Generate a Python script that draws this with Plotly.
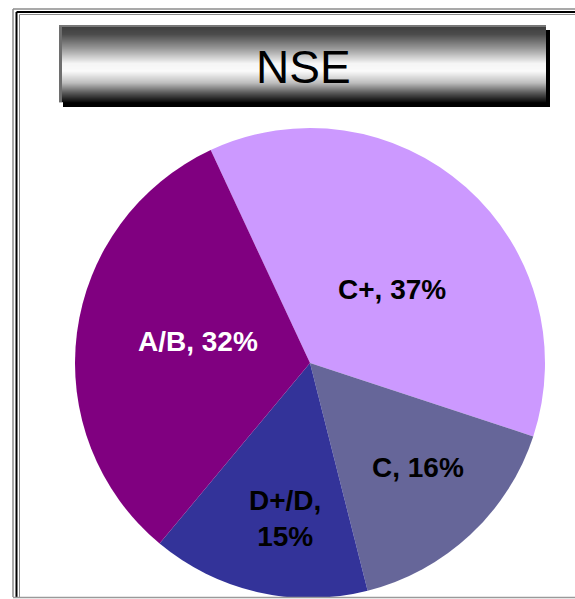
import math
import plotly.graph_objects as go

# ---- data ----
categories = ["C+", "C", "D+/D", "A/B"]
values = [37, 16, 15, 32]
label_text = ["C+, 37%", "C, 16%", "D+/D,<br>15%", "A/B, 32%"]
title_text = "NSE"

# ---- style ----
colors = ["#CC99FF", "#666699", "#333399", "#800080"]
text_colors = ["black", "black", "black", "white"]
label_angle_frac = [0.55, 0.45, 0.43, 0.53]   # where the label sits inside its slice (angular)
label_radius_frac = [0.47, 0.64, 0.67, 0.485]  # and radially (fraction of radius)
START_ANGLE = -25

W, H = 575, 599
FONT = "Arial, 'Liberation Sans', sans-serif"
CX, CY, R = 310, 363, 235


def px(x):
    return x / W


def py(y):
    return 1 - y / H


fig = go.Figure()
fig.add_trace(go.Pie(
    labels=categories,
    values=values,
    textinfo="none",
    marker=dict(colors=colors, line=dict(width=0)),
    sort=False,
    direction="clockwise",
    rotation=START_ANGLE,
    hoverinfo="skip",
    showlegend=False,
    domain=dict(x=[px(CX - R), px(CX + R)], y=[py(CY + R), py(CY - R)]),
))

annotations = [dict(text=title_text, xref="paper", yref="paper", x=px(303), y=py(67),
                    xanchor="center", yanchor="middle", showarrow=False,
                    font=dict(family=FONT, size=46, color="black"))]

total = sum(values)
cum = 0
for v, txt, tc, af, rf in zip(values, label_text, text_colors, label_angle_frac, label_radius_frac):
    a0 = START_ANGLE + 360 * cum / total
    a1 = START_ANGLE + 360 * (cum + v) / total
    cum += v
    ang = math.radians(a0 + af * (a1 - a0))
    x = CX + rf * R * math.sin(ang)
    y = CY - rf * R * math.cos(ang)
    annotations.append(dict(text=txt, xref="paper", yref="paper", x=px(x), y=py(y),
                            xanchor="center", yanchor="middle", showarrow=False,
                            font=dict(family=FONT, size=28, color=tc, weight="bold")))

shapes = []
# frame (double line, left / top / bottom)
for xline, yline, col, w in [(13, 9, "#8c8c8c", 1.5), (16.5, 12, "#000000", 2), (19.5, 14.5, "#8c8c8c", 1)]:
    shapes.append(dict(type="line", xref="paper", yref="paper", x0=px(xline), x1=px(xline),
                       y0=py(yline), y1=py(597), line=dict(color=col, width=w)))
    shapes.append(dict(type="line", xref="paper", yref="paper", x0=px(xline), x1=1.0,
                       y0=py(yline), y1=py(yline), line=dict(color=col, width=w)))
shapes.append(dict(type="line", xref="paper", yref="paper", x0=px(13), x1=1.0,
                   y0=py(597.5), y1=py(597.5), line=dict(color="#9a9a9a", width=1.5)))

# title box: shadow
bx0, bx1, by0, by1 = 59, 546, 25, 102
shapes.append(dict(type="rect", xref="paper", yref="paper", x0=px(bx0 + 4), x1=px(bx1 + 4),
                   y0=py(by0 + 5), y1=py(by1 + 5), fillcolor="black", line=dict(width=0)))

# title box gradient (metallic): strips
stops = [(0.0, 60), (0.12, 75), (0.3, 150), (0.5, 245), (0.6, 250), (0.75, 190), (0.88, 90), (1.0, 10)]


def gray_at(t):
    for (t0, g0), (t1, g1) in zip(stops[:-1], stops[1:]):
        if t0 <= t <= t1:
            return g0 + (g1 - g0) * (t - t0) / (t1 - t0)
    return stops[-1][1]


n = by1 - by0
for i in range(n):
    g = int(round(gray_at((i + 0.5) / n)))
    shapes.append(dict(type="rect", xref="paper", yref="paper", x0=px(bx0), x1=px(bx1),
                       y0=py(by0 + i + 1.2), y1=py(by0 + i), fillcolor=f"rgb({g},{g},{g})",
                       line=dict(width=0), layer="above"))
# bevel edges
shapes.append(dict(type="rect", xref="paper", yref="paper", x0=px(bx0), x1=px(bx0 + 3),
                   y0=py(by1), y1=py(by0), fillcolor="#6e6e6e", line=dict(width=0), layer="above"))
shapes.append(dict(type="rect", xref="paper", yref="paper", x0=px(bx0), x1=px(bx1),
                   y0=py(by0 + 2), y1=py(by0), fillcolor="#777777", line=dict(width=0), layer="above"))

fig.update_layout(
    width=W, height=H,
    margin=dict(l=0, r=0, t=0, b=0),
    paper_bgcolor="white",
    plot_bgcolor="white",
    shapes=shapes,
    annotations=annotations,
)

fig.write_html("out.html", config={"displayModeBar": False},
               post_script="document.body.style.margin='0';document.body.style.overflow='hidden';")
